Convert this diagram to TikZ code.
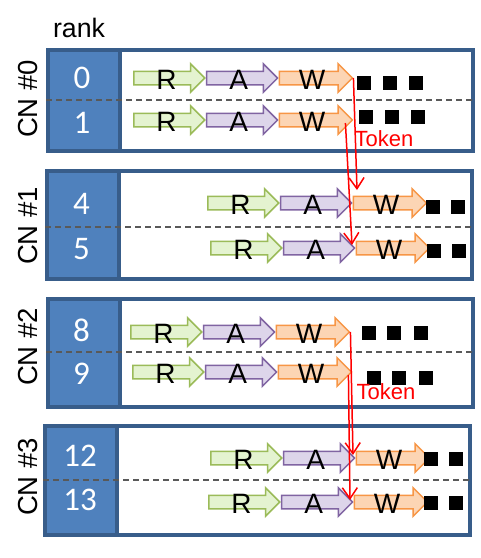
\documentclass[tikz,border=0pt]{standalone}
\usepackage{fontspec}
\setmainfont{Liberation Sans}
\newfontfamily\numfont{Carlito}
\usetikzlibrary{shapes.arrows,arrows.meta,positioning}
\definecolor{cnedge}{HTML}{385D8A}
\definecolor{cnfill}{HTML}{4F81BD}
\definecolor{rdraw}{HTML}{9BBB59}
\definecolor{rfill}{HTML}{E4F3D0}
\definecolor{adraw}{HTML}{8064A2}
\definecolor{afill}{HTML}{DDD5EA}
\definecolor{wdraw}{HTML}{F79646}
\definecolor{wfill}{HTML}{FCD5B4}
\definecolor{sepgray}{HTML}{595959}
\begin{document}
\begin{tikzpicture}[x=1pt,y=-1pt,
    panel/.style={draw=cnedge,fill=white,line width=3.5pt,minimum width=425pt,inner sep=0pt},
    rankbox/.style={draw=cnedge,fill=cnfill,line width=3.5pt,minimum width=72pt,inner sep=0pt},
    sep/.style={sepgray,line width=1.6pt,dash pattern=on 6pt off 4pt},
    blockarrow/.style={single arrow,anchor=tail,inner xsep=0pt,inner ysep=6pt,
      single arrow head extend=7.5pt,line width=1.5pt,minimum width=0pt},
    rstep/.style={blockarrow,draw=rdraw,fill=rfill,minimum height=71pt},
    astep/.style={blockarrow,draw=adraw,fill=afill,minimum height=71pt},
    wstep/.style={blockarrow,draw=wdraw,fill=wfill,minimum height=73pt},
    letter/.style={inner sep=0pt,font=\fontsize{28}{30}\selectfont},
    ranknum/.style={inner sep=0pt,text=white,font=\numfont\fontsize{33}{36}\selectfont},
    cnlabel/.style={inner sep=0pt,rotate=90,font=\fontsize{27.5}{30}\selectfont},
    dot/.style={fill=black,inner sep=0pt,minimum size=14pt},
    token/.style={red,line width=1.5pt,->},
    >={Straight Barb[length=11pt,width=15pt]}]
  \useasboundingbox (0,0) rectangle (481,558);

  \node[anchor=base,inner sep=0pt,font=\fontsize{26.7}{30}\selectfont] (ranktitle) at (79,37) {rank};

  % compute nodes
  \foreach \p/\x/\y/\h/\d/\c in {0/46/48/101/100/99, 1/45/169/108/227/226,
                                  2/46/297/108/352/347, 3/43/424/109/480/477} {
    \node[panel,minimum height=\h pt,anchor=north west] (cn\p) at (\x,\y) {};
    \node[rankbox,minimum height=\h pt,anchor=north west] (rk\p) at (cn\p.north west) {};
    \draw[sep] (cn\p.west |- 0,\d) -- (cn\p.east |- 0,\d);
    \node[cnlabel] (lab\p) at (28,\c) {CN \#\p};
  }

  % ranks
  \foreach \n/\x/\y in {0/82/77.5, 1/82/123, 4/81.5/203.5, 5/81.5/249,
                        8/81.5/330, 9/81.5/373.5, 12/80/456, 13/80/500}
    \node[ranknum] (n\n) at (\x,\y) {\n};

  % read - allreduce - write
  \foreach \k/\x/\y in {00/133/78, 01/133/120, 10/207/203, 11/210/248,
                        20/130/332, 21/132/372, 30/210/458, 31/208/502} {
    \node[rstep] (R-\k) at (\x,\y) {};
    \node[astep] (A-\k) at (R-\k.tip) {};
    \node[wstep] (W-\k) at (A-\k.tip) {};
    \node[letter] (lr\k) at ([xshift=33.5pt,yshift=-2pt]R-\k.tail) {R};
    \node[letter] (la\k) at ([xshift=33pt,yshift=-2pt]A-\k.tail) {A};
    \node[letter] (lw\k) at ([xshift=33.5pt,yshift=-2pt]W-\k.tail) {W};
  }

  % the dots
  \foreach \n/\x/\y in {a/364/83, b/390/83, c/416/83, d/366/117, e/392/117, f/418/117,
                        g/433/207, h/458/207, i/434/251, j/459/251,
                        k/369/333, l/394/333, m/421/333, o/374/378, p/399/378, q/426/378,
                        r/431/459, s/456/459, t/431/503, u/456/503}
    \node[dot] (sq\n) at (\x,\y) {};

  % token passing
  \coordinate (s01) at ([xshift=-8pt,yshift=-3pt]W-01.tip);
  \coordinate (s21) at ([xshift=-4pt,yshift=-3pt]W-21.tip);
  \coordinate (e10) at (357,190);
  \coordinate (e11) at (352,245);
  \coordinate (e30) at (353,455);
  \coordinate (e31) at (350,500);
  \draw[token] (W-00.tip) -- (e10);
  \draw[token] (s01) -- (e11);
  \draw[token] (W-20.tip) -- (e30);
  \draw[token] (s21) -- (e31);
  \node[red,inner sep=0pt,font=\fontsize{22}{24}\selectfont] (tok0) at (384,139) {Token};
  \node[red,inner sep=0pt,font=\fontsize{22}{24}\selectfont] (tok2) at (386,392) {Token};
\end{tikzpicture}
\end{document}
